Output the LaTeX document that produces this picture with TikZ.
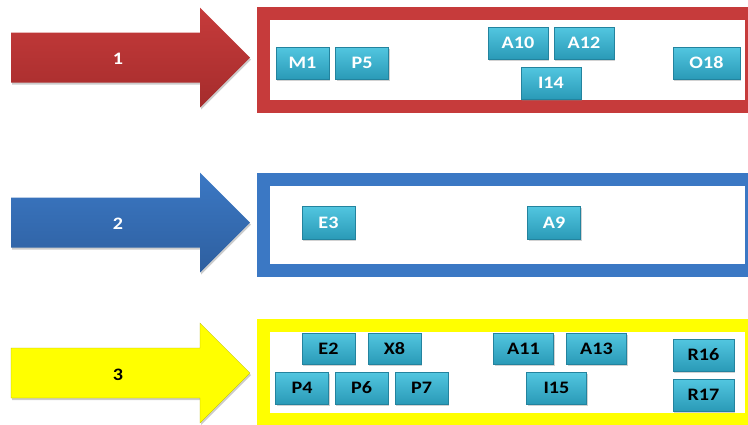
\documentclass[tikz,border=0pt]{standalone}
\usepackage{fontspec}
\setmainfont{Carlito}
\newfontfamily\tagfont[FakeStretch=1.15]{Carlito}
\usetikzlibrary{shadows}
\definecolor{redc}{HTML}{C63B3B}
\definecolor{redd}{HTML}{A52C2C}
\definecolor{bluec}{HTML}{3B78C4}
\definecolor{blued}{HTML}{2E5F9F}
\definecolor{yelc}{HTML}{FFFF00}
\definecolor{tagtop}{HTML}{52C6E0}
\definecolor{tagbot}{HTML}{2A9AB7}
\definecolor{tagline}{HTML}{23839E}
\tikzset{
  tag/.style={draw=tagline, top color=tagtop, bottom color=tagbot, line width=0.4pt,
              minimum width=53pt, minimum height=32pt, inner sep=0pt, text=white,
              font=\tagfont\fontsize{17.5}{19}\selectfont\bfseries,
              drop shadow={shadow xshift=1pt, shadow yshift=-1.5pt, opacity=.35}},
  wtag/.style={tag, minimum width=60pt},
  dtag/.style={tag, text=black},
  dwtag/.style={wtag, text=black},
  band/.style={draw, line width=13pt, fill=white, inner sep=0pt,
               minimum width=488.5pt, minimum height=93pt},
  num/.style={font=\tagfont\fontsize{17.5}{19}\selectfont\bfseries, text=white},
}
\begin{document}
\begin{tikzpicture}[x=1pt, y=-1pt]
  \useasboundingbox (0,0) rectangle (748,424);
  \clip (0,0) rectangle (748,424);

  % arrows on the left
  \foreach \y/\c/\d in {57.5/redc/redd, 222.5/bluec/blued, 373/yelc/yelc}{
    \fill[black, opacity=.2] (12,\y-23) -- (201,\y-23) -- (201,\y-48) -- (251,\y+2)
      -- (201,\y+52) -- (201,\y+27) -- (12,\y+27) -- cycle;
    \shade[top color=\c, bottom color=\d] (11,\y-25) -- (200,\y-25) -- (200,\y-50)
      -- (250,\y) -- (200,\y+50) -- (200,\y+25) -- (11,\y+25) -- cycle;
  }
  \draw[yelc!70!black, line width=0.3pt] (11,348) -- (200,348) -- (200,323)
      -- (250,373) -- (200,423) -- (200,398) -- (11,398) -- cycle;
  \node[num] (n1) at (118,59) {1};
  \node[num] (n2) at (118,224) {2};
  \node[num, text=black] (n3) at (118,375) {3};

  % frames
  \node[band, draw=redc] (grp1) at (507.25,60) {};
  \node[band, draw=bluec, minimum height=91.5pt] (grp2) at (507.5,224.75) {};
  \node[band, draw=yelc, minimum height=94pt] (grp3) at (507.5,372.5) {};

  % group 1
  \node[tag] (m1) at (302.5,63) {M1};
  \node[tag] (p5) at (362,63) {P5};
  \node[wtag] (a10) at (518,43) {A10};
  \node[wtag] (a12) at (584,43) {A12};
  \node[wtag] (i14) at (551,83) {I14};
  \node[tag, minimum width=67pt] (o18) at (706.5,63) {O18};

  % group 2
  \node[tag, minimum height=33pt] (e3) at (328.5,222.5) {E3};
  \node[tag, minimum height=33pt] (a9) at (554,222.5) {A9};

  % group 3
  \node[dtag, minimum height=31pt] (e2) at (328.5,348.5) {E2};
  \node[dtag, minimum height=31pt] (x8) at (394.5,348.5) {X8};
  \node[dwtag, minimum height=31pt] (a11) at (523.5,348.5) {A11};
  \node[dwtag, minimum height=31pt] (a13) at (596.5,348.5) {A13};
  \node[dwtag, minimum width=61pt] (r16) at (703.5,355) {R16};
  \node[dtag] (p4) at (302,388) {P4};
  \node[dtag] (p6) at (361.5,388) {P6};
  \node[dtag] (p7) at (421.5,388) {P7};
  \node[dwtag] (i15) at (556.5,388) {I15};
  \node[dwtag, minimum width=61pt] (r17) at (703.5,395) {R17};
\end{tikzpicture}
\end{document}
